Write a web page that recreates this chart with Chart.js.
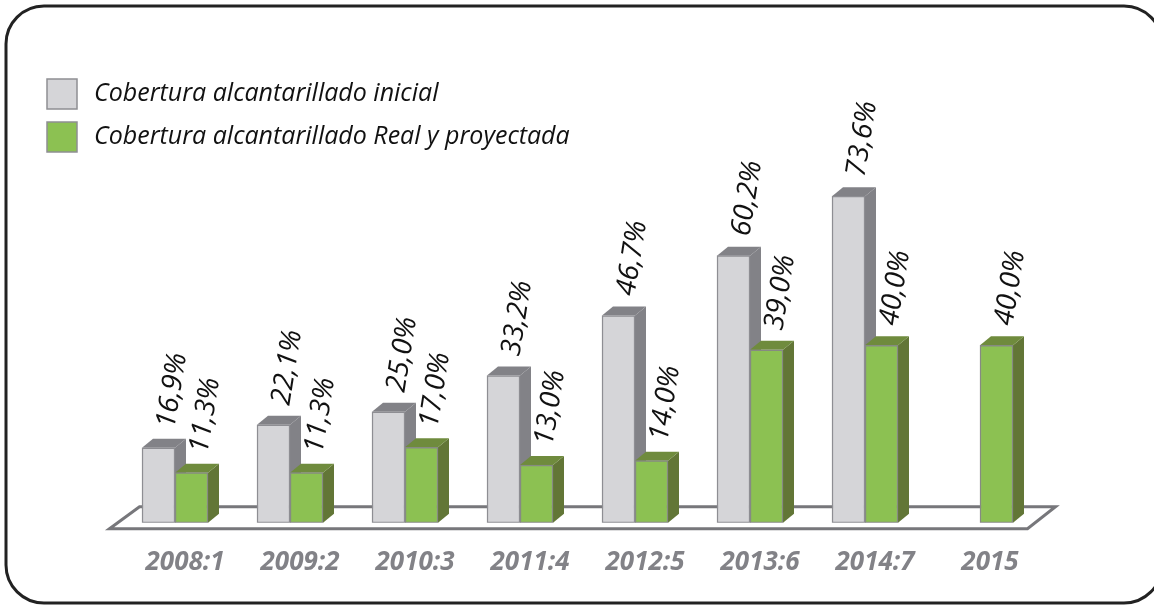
<!DOCTYPE html>
<html>
<head>
<meta charset="utf-8">
<script src="https://cdn.jsdelivr.net/npm/chart.js@4/dist/chart.umd.min.js"></script>
<style>
  html, body { margin: 0; padding: 0; background: #fff; }
  #wrap { width: 1154px; height: 606px; }
</style>
</head>
<body>
<div id="wrap"><canvas id="chart_cobertura"></canvas></div>
<script>
var categories = ['2008:1', '2009:2', '2010:3', '2011:4', '2012:5', '2013:6', '2014:7', '2015'];
var cobertura_inicial = [16.9, 22.1, 25.0, 33.2, 46.7, 60.2, 73.6, null];
var cobertura_real = [11.3, 11.3, 17.0, 13.0, 14.0, 39.0, 40.0, 40.0];
var series_labels = ['Cobertura alcantarillado inicial', 'Cobertura alcantarillado Real y proyectada'];

var gray_front = '#d5d5d8', gray_dark = '#828287', gray_edge = '#8e8e93';
var green_front = '#8cc152', green_top = '#6f8b3d', green_side = '#627636', green_edge = '#868a82';
var face_colors = [[gray_dark, gray_dark], [green_top, green_side]];
var depth_x = 11, depth_y = -9;

function fmt_pct(v) {
    return v.toFixed(1).replace('.', ',') + '%';
}

// white page + rounded frame
var framePlugin = {
    id: 'frame',
    beforeDraw: function(chart) {
        var ctx = chart.ctx;
        ctx.save();
        ctx.fillStyle = '#fff';
        ctx.fillRect(0, 0, chart.width, chart.height);
        ctx.restore();
    },
    afterDraw: function(chart) {
        var ctx = chart.ctx;
        ctx.save();
        ctx.strokeStyle = '#222';
        ctx.lineWidth = 3;
        ctx.beginPath();
        ctx.roundRect(6, 6, 1156, 597, 38);
        ctx.stroke();
        ctx.restore();
    }
};

// floor + the 3d faces of the bars, drawn before the front faces
var depthPlugin = {
    id: 'depth',
    beforeDatasetsDraw: function(chart) {
        var ctx = chart.ctx;
        var xs = chart.scales.x, ys = chart.scales.y;
        var y0 = ys.getPixelForValue(0);

        ctx.save();
        ctx.beginPath();
        ctx.moveTo(xs.left - 8, y0 + 6);
        ctx.lineTo(xs.left + 22, y0 - 16);
        ctx.lineTo(xs.right + 18, y0 - 16);
        ctx.lineTo(xs.right - 10, y0 + 6);
        ctx.closePath();
        ctx.fillStyle = '#fff';
        ctx.fill();
        ctx.strokeStyle = '#77777b';
        ctx.lineWidth = 3;
        ctx.stroke();

        chart.getSortedVisibleDatasetMetas().forEach(function(meta) {
            var di = meta.index;
            meta.data.forEach(function(bar, i) {
                if (chart.data.datasets[di].data[i] == null) return;
                var p = bar.getProps(['x', 'y', 'base', 'width'], true);
                var l = p.x - p.width / 2, r = p.x + p.width / 2;
                // side
                ctx.fillStyle = face_colors[di][1];
                ctx.beginPath();
                ctx.moveTo(r, p.y);
                ctx.lineTo(r + depth_x, p.y + depth_y);
                ctx.lineTo(r + depth_x, p.base + depth_y);
                ctx.lineTo(r, p.base);
                ctx.closePath();
                ctx.fill();
                // top
                ctx.fillStyle = face_colors[di][0];
                ctx.beginPath();
                ctx.moveTo(l, p.y);
                ctx.lineTo(l + depth_x, p.y + depth_y);
                ctx.lineTo(r + depth_x, p.y + depth_y);
                ctx.lineTo(r, p.y);
                ctx.closePath();
                ctx.fill();
            });
        });
        ctx.restore();
    },
    afterDatasetsDraw: function(chart) {
        var ctx = chart.ctx;
        ctx.save();
        ctx.font = 'italic 28px "Open Sans"';
        ctx.fillStyle = '#111';
        ctx.textAlign = 'left';
        ctx.textBaseline = 'middle';
        chart.getSortedVisibleDatasetMetas().forEach(function(meta) {
            var vals = chart.data.datasets[meta.index].data;
            meta.data.forEach(function(bar, i) {
                if (vals[i] == null) return;
                var p = bar.getProps(['x', 'y'], true);
                ctx.save();
                ctx.translate(p.x + 8, p.y + depth_y - 11);
                ctx.rotate(-81 * Math.PI / 180);
                ctx.fillText(fmt_pct(vals[i]), 0, 0);
                ctx.restore();
            });
        });
        ctx.restore();
    }
};

// legend stacked in the top-left corner
var legendPlugin = {
    id: 'stackedLegend',
    afterDraw: function(chart) {
        var ctx = chart.ctx;
        ctx.save();
        chart.data.datasets.forEach(function(ds, i) {
            var top = 79 + i * 43;
            ctx.fillStyle = ds.backgroundColor;
            ctx.fillRect(47, top, 30, 30);
            ctx.strokeStyle = '#8e8e93';
            ctx.lineWidth = 1.5;
            ctx.strokeRect(47, top, 30, 30);
            ctx.fillStyle = '#111';
            ctx.font = 'italic 25px "Open Sans"';
            ctx.textBaseline = 'middle';
            ctx.fillText(ds.label, 94, top + 15);
        });
        ctx.restore();
    }
};

var ctx = document.getElementById('chart_cobertura').getContext('2d');
var chart = new Chart(ctx, {
    type: 'bar',
    data: {
        labels: categories,
        datasets: [
            {
                label: series_labels[0],
                data: cobertura_inicial,
                backgroundColor: gray_front,
                borderColor: gray_edge,
                borderWidth: 1.5,
                borderSkipped: false,
                barThickness: 33
            },
            {
                label: series_labels[1],
                data: cobertura_real,
                backgroundColor: green_front,
                borderColor: green_edge,
                borderWidth: 1.5,
                borderSkipped: false,
                barThickness: 33
            }
        ]
    },
    options: {
        responsive: true,
        maintainAspectRatio: false,
        animation: false,
        layout: { padding: { left: 117.5, right: 116.5, top: 79, bottom: 12 } },
        plugins: {
            legend: { display: false },
            tooltip: { enabled: false }
        },
        scales: {
            x: {
                grid: { display: false },
                border: { display: false },
                ticks: {
                    color: '#828287',
                    padding: 16,
                    labelOffset: 10,
                    maxRotation: 0,
                    font: { family: 'Open Sans', size: 26, style: 'italic', weight: 'bold' }
                }
            },
            y: {
                display: false,
                min: 0,
                max: 100
            }
        }
    },
    plugins: [framePlugin, depthPlugin, legendPlugin]
});
</script>
</body>
</html>
